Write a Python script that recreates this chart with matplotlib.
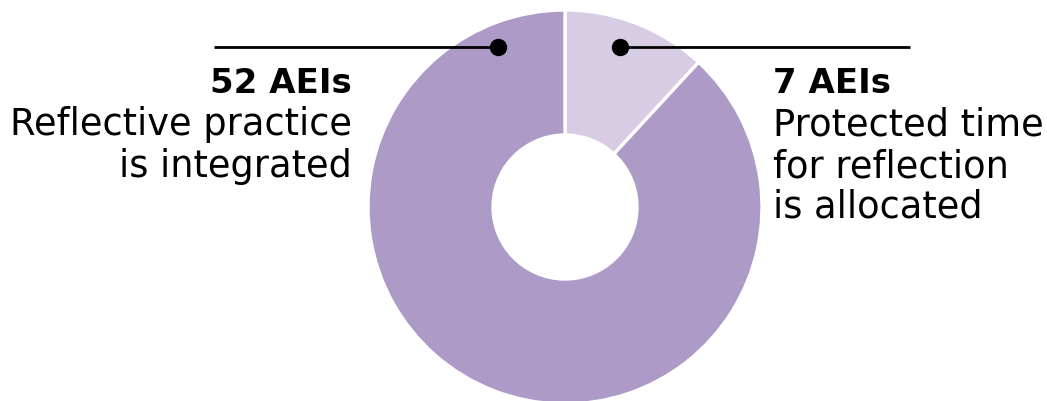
import matplotlib
matplotlib.use("Agg")
import matplotlib.pyplot as plt

values = [7, 52]
colors = ["#D7CCE3", "#AD9AC7"]
right_title = "7 AEIs"
right_lines = ["Protected time", "for reflection", "is allocated"]
left_title = "52 AEIs"
left_lines = ["Reflective practice", "is integrated"]

W, H = 1047, 401
fig = plt.figure(figsize=(W / 100, H / 100), dpi=100)
ax = fig.add_axes([0, 0, 1, 1])

cx, cy, R = 565, H - 207, 197
ax.pie(values, colors=colors, startangle=90, counterclock=False,
       center=(cx, cy), radius=R, frame=True,
       wedgeprops=dict(width=R - 72, edgecolor="white", linewidth=2.4))
ax.set_xlim(0, W)
ax.set_ylim(0, H)
ax.set_aspect("equal")
ax.axis("off")

ly = H - 47
ax.plot([214, 498], [ly, ly], color="black", lw=2.0, solid_capstyle="butt")
ax.plot([620, 910], [ly, ly], color="black", lw=2.0, solid_capstyle="butt")
ax.plot([498, 620], [ly, ly], "o", color="black", ms=11.5, lw=0)

fam = ["DejaVu Sans"]
fs = 26.5
fs_title = 24.5
baselines = [93, 135, 177, 218]
ax.text(352, H - baselines[0], left_title, ha="right", va="baseline", fontsize=fs_title,
        fontweight="bold", family=fam)
for i, t in enumerate(left_lines):
    ax.text(352, H - baselines[i + 1], t, ha="right", va="baseline", fontsize=fs, family=fam)
ax.text(773, H - baselines[0], right_title, ha="left", va="baseline", fontsize=fs_title,
        fontweight="bold", family=fam)
for i, t in enumerate(right_lines):
    ax.text(773, H - baselines[i + 1], t, ha="left", va="baseline", fontsize=fs, family=fam)

fig.savefig("out.png", dpi=100)
